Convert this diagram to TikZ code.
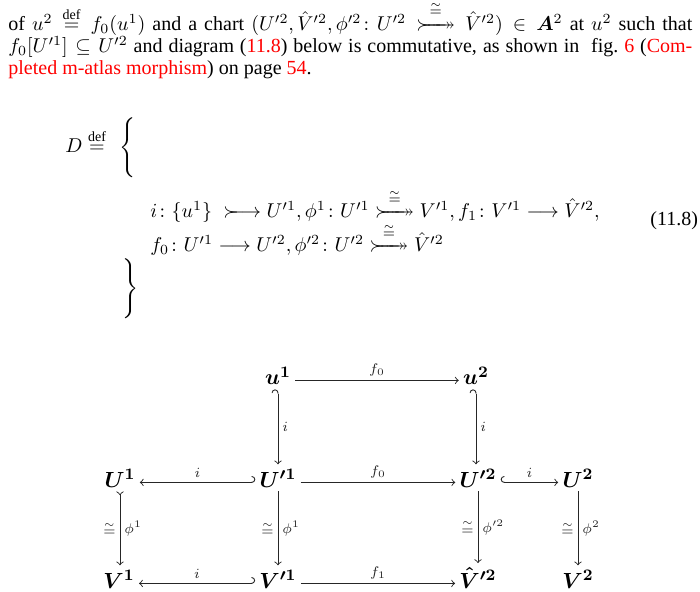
\documentclass[tikz,border=0pt]{standalone}
\usepackage{amsmath}
\usepackage{amssymb}
\usepackage{bm}
\usepackage{fontspec}
\setmainfont{Liberation Serif}
\usetikzlibrary{arrows}
\tikzstyle{page} = [x = .5pt, y = -.5pt]
\tikzstyle{textLine} = [anchor = base west, inner sep = 0, font = \fontsize{10}{12}\selectfont]
\tikzstyle{braceNode} = [inner sep = 0, font = \fontsize{10}{12}\selectfont]
\tikzstyle{objectNode} = [anchor = base, inner sep = 2pt, font = \fontsize{11}{13}\selectfont\boldmath]
\tikzstyle{mapArrow} = [color = black!85, line width = .45pt]
\tikzstyle{mapLabel} = [font = \fontsize{7.5}{9}\selectfont, inner sep = 2pt]
\newcommand{\defEq}{\overset{\text{def}}{=}}
\newcommand{\isoSign}{\overset{\sim}{=}}
\newcommand{\monoArrow}{\mathrel{\succ\mkern-9mu\longrightarrow}}
\newcommand{\monoEpiIso}{\mathrel{\overset{\isoSign}{\succ\mkern-10mu\relbar\mkern-9mu\relbar\mkern-9mu\relbar\mkern-11mu\twoheadrightarrow}}}
\newcommand{\lineWidth}{342pt}
\newcommand{\paragraphLine}[4]{\node [textLine] (#1) at (#2, #3) {\makebox[\lineWidth][s]{#4}};}
\newcommand{\verticalMap}[4][->]{\draw [mapArrow, #1] (#2.south) -- node [mapLabel, left] {$\isoSign$} node [mapLabel, right] {$#4$} (#2.south |- #3.north);}
\begin{document}
\begin{tikzpicture}[page]
  \useasboundingbox (0, 0) rectangle (700, 592);
  \paragraphLine{lineOne}{8}{30.5}{of $u^2 \defEq f_0(u^1)$ and a chart $(U'^2, \hat{V}'^2, \phi'^2\colon U'^2 \monoEpiIso \hat{V}'^2) \in \bm{A}^2$ at $u^2$ such that}
  \paragraphLine{lineTwo}{8}{52.5}{$f_0[U'^1] \subseteq U'^2$ and diagram (\textcolor{red}{11.8}) below is commutative, as shown in\ \ fig.~\textcolor{red}{6} (\textcolor{red}{Com-}}
  \node [textLine] (lineThree) at (8, 75) {\textcolor{red}{pleted m-atlas morphism}) on page \textcolor{red}{54}.};

  \node [textLine] (defSign) at (65, 153) {$D \defEq$};
  \node [braceNode] (openBrace) at (129, 149) {$\left\{\vrule height 14pt depth 14pt width 0pt\right.$};
  \node [textLine] (rowOne) at (150, 218) {$i\colon \{u^1\}\; \monoArrow U'^1, \phi^1\colon U'^1 \monoEpiIso V'^1, f_1\colon V'^1 \longrightarrow \hat{V}'^2,$};
  \node [textLine] (rowTwo) at (150, 252) {$f_0\colon U'^1 \longrightarrow U'^2, \phi'^2\colon U'^2 \monoEpiIso \hat{V}'^2$};
  \node [textLine] (eqNumber) at (650, 226) {(11.8)};
  \node [braceNode] (closeBrace) at (129, 290) {$\left.\vrule height 14pt depth 14pt width 0pt\right\}$};

  % diagram
  \node [objectNode] (u1) at (278, 385) {$u^1$};
  \node [objectNode] (u2) at (476, 385) {$u^2$};
  \node [objectNode] (U1) at (120, 487) {$U^1$};
  \node [objectNode] (Up1) at (278, 487) {$U'^1$};
  \node [objectNode] (Up2) at (478, 487) {$U'^2$};
  \node [objectNode] (U2) at (578, 487) {$U^2$};
  \node [objectNode] (V1) at (119, 588) {$V^1$};
  \node [objectNode] (Vp1) at (278, 588) {$V'^1$};
  \node [objectNode] (Vhp2) at (478, 588) {$\hat{V}'^2$};
  \node [objectNode] (V2) at (578, 588) {$V^2$};

  \draw [mapArrow, ->] (u1.mid east) -- node [mapLabel, above] {$f_0$} (u2.mid west);
  \draw [mapArrow, left hook->] (u1.south) -- node [mapLabel, right] {$i$} (u1.south |- Up1.north);
  \draw [mapArrow, left hook->] (u2.south) -- node [mapLabel, right] {$i$} (u2.south |- Up2.north);

  \draw [mapArrow, left hook->] (Up1.mid west) -- node [mapLabel, above] {$i$} (U1.mid east);
  \draw [mapArrow, ->] (Up1.mid east) -- node [mapLabel, above] {$f_0$} (Up2.mid west);
  \draw [mapArrow, right hook->] (Up2.mid east) -- node [mapLabel, above] {$i$} (U2.mid west);

  \verticalMap[>->]{U1}{V1}{\phi^1}
  \verticalMap{Up1}{Vp1}{\phi^1}
  \verticalMap{Up2}{Vhp2}{\phi'^2}
  \verticalMap{U2}{V2}{\phi^2}

  \draw [mapArrow, left hook->] (Vp1.mid west) -- node [mapLabel, above] {$i$} (V1.mid east);
  \draw [mapArrow, ->] (Vp1.mid east) -- node [mapLabel, above] {$f_1$} (Vhp2.mid west);
\end{tikzpicture}
\end{document}
